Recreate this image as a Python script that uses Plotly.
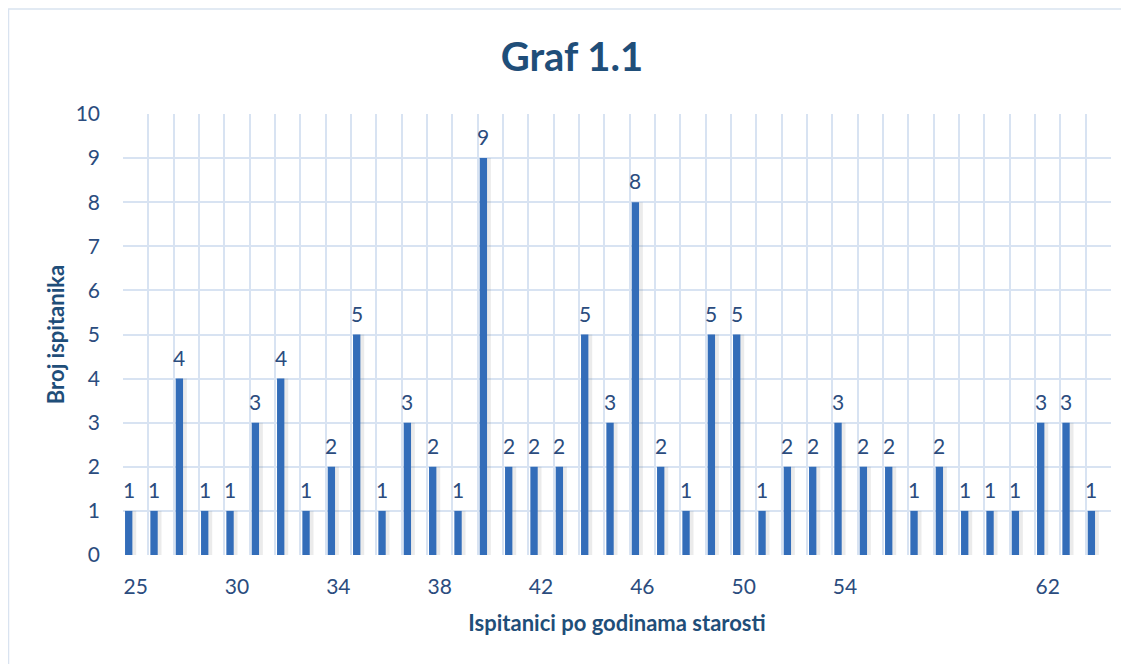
import plotly.graph_objects as go

# --- data ---
ages = ["25", "", "", "", "30", "", "", "", "34", "", "", "", "38", "", "", "", "42", "", "", "",
        "46", "", "", "", "50", "", "", "", "54", "", "", "", "", "", "", "", "62", "", ""]
counts = [1, 1, 4, 1, 1, 3, 4, 1, 2, 5, 1, 3, 2, 1, 9, 2, 2, 2, 5, 3,
          8, 2, 1, 5, 5, 1, 2, 2, 3, 2, 2, 1, 2, 1, 1, 1, 3, 3, 1]
y_ticks = list(range(0, 11))

title_text = "Graf 1.1"
x_title = "Ispitanici po godinama starosti"
y_title = "Broj ispitanika"

FONT = "Lato"
DARK = "#1F4E79"
LABEL = "#2B4C7E"
GRID = "#D8E3F2"
BAR = "#336DB9"

idx = list(range(len(counts)))
BAR_OFF = -0.42
BAR_W = 0.29

fig = go.Figure()
# soft shadow
fig.add_trace(go.Bar(x=idx, y=counts, offset=BAR_OFF + 0.08, width=BAR_W + 0.07,
                     marker=dict(color="rgba(110,110,110,0.14)", line=dict(width=0)),
                     hoverinfo="skip", showlegend=False))
fig.add_trace(go.Bar(x=idx, y=counts, offset=BAR_OFF, width=BAR_W,
                     marker=dict(color=BAR, line=dict(width=0)),
                     showlegend=False))

annotations = []
for i, v in zip(idx, counts):
    annotations.append(dict(x=i + BAR_OFF + BAR_W / 2, y=v, xref="x", yref="y",
                            text=str(v), showarrow=False, yanchor="bottom", yshift=7,
                            font=dict(family=FONT, size=21, color=LABEL)))

fig.update_layout(
    width=1129, height=664,
    margin=dict(l=115, r=26, t=106, b=117),
    paper_bgcolor="white", plot_bgcolor="white",
    barmode="overlay",
    title=dict(text="<b>" + title_text + "</b>", x=(564 / 1129), xref="container", xanchor="center",
               y=1 - 49 / 664, yref="container", yanchor="middle",
               font=dict(family=FONT, size=40, color=DARK)),
    xaxis=dict(range=[-0.5, len(counts) - 0.5],
               tickmode="array", tickvals=idx, ticktext=ages,
               tickfont=dict(family=FONT, size=21, color=LABEL),
               showgrid=False, zeroline=False, showline=False, ticks="",
               ticklabelstandoff=17,
               minor=dict(tickvals=[i - 0.5 for i in range(len(counts) + 1)], showgrid=True,
                          gridcolor=GRID, gridwidth=1.5, ticks=""),
               title=dict(text="<b>" + x_title + "</b>", standoff=18,
                          font=dict(family=FONT, size=22, color=DARK))),
    yaxis=dict(range=[0, 10], tickvals=y_ticks,
               tickfont=dict(family=FONT, size=21, color=LABEL),
               showgrid=True, gridcolor=GRID, gridwidth=1.5,
               zeroline=False, showline=False, ticks="", ticklabelstandoff=22,
               title=dict(text="<b>" + y_title + "</b>", standoff=4,
                          font=dict(family=FONT, size=22, color=DARK))),
    annotations=annotations,
    shapes=[dict(type="rect", xref="paper", yref="paper",
                 x0=-0.1159, x1=1.05, y0=-0.3, y1=1.238,
                 line=dict(color="#D9E3F0", width=1.5), fillcolor="rgba(0,0,0,0)", layer="below")],
)

fig.write_html("out.html")
